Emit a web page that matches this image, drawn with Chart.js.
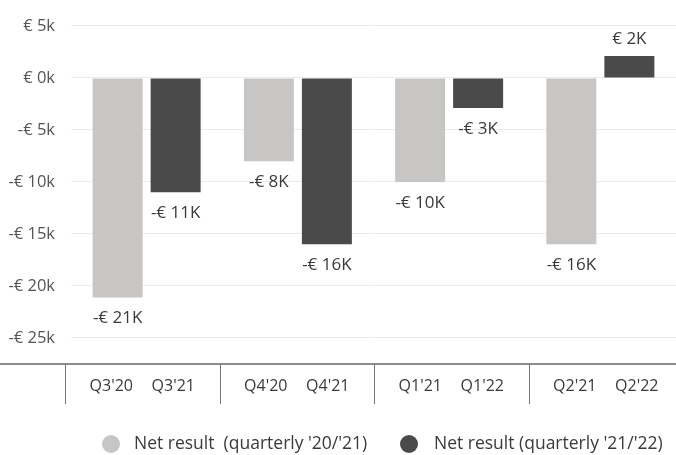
<!DOCTYPE html>
<html><head><meta charset="utf-8">
<script src="https://cdn.jsdelivr.net/npm/chart.js@4.4.1/dist/chart.umd.min.js"></script>
<style>html,body{margin:0;padding:0;background:#fff}#wrap{width:676px;height:455px}</style>
</head><body><div id="wrap"><canvas id="c" width="676" height="455"></canvas></div>
<script>
const quarters = ["Q3", "Q4", "Q1", "Q2"];
const labelsPrev = ["Q3'20", "Q4'20", "Q1'21", "Q2'21"];
const labelsCurr = ["Q3'21", "Q4'21", "Q1'22", "Q2'22"];
const netPrev = [-21100, -8000, -10000, -16000];
const netCurr = [-11000, -16000, -2900, 2100];
const seriesNames = ["Net result  (quarterly '20/'21)", "Net result (quarterly '21/'22)"];
const yTicks = [5000, 0, -5000, -10000, -15000, -20000, -25000];
const barColors = ["#c7c6c4", "#4a4a4a"];

const FONT = "'Open Sans', 'Noto Sans', sans-serif";
function fmtTick(v) {
  const k = Math.round(Math.abs(v) / 1000);
  return (v < 0 ? "-€ " : "€ ") + k + "k";
}
function fmtVal(v) {
  const k = Math.round(Math.abs(v) / 1000);
  return (v < 0 ? "-€ " : "€ ") + k + "K";
}

const decor = {
  id: 'decor',
  afterDraw(chart) {
    const ctx = chart.ctx;
    const area = chart.chartArea;
    ctx.save();
    // axis line
    ctx.strokeStyle = '#666';
    ctx.lineWidth = 1.6;
    ctx.beginPath();
    ctx.moveTo(0, area.bottom);
    ctx.lineTo(chart.width, area.bottom);
    ctx.stroke();
    // group band layout of the lower label axis
    const bandLeft = area.left - 6;
    const bandW = (area.right + 7 - bandLeft) / quarters.length;
    ctx.strokeStyle = '#777';
    ctx.lineWidth = 1;
    for (let i = 0; i < quarters.length; i++) {
      const x = bandLeft + i * bandW;
      ctx.beginPath();
      ctx.moveTo(Math.round(x) + 0.5, area.bottom);
      ctx.lineTo(Math.round(x) + 0.5, area.bottom + 40);
      ctx.stroke();
    }
    // lower category labels (two per group)
    ctx.textAlign = 'center';
    ctx.textBaseline = 'middle';
    ctx.fillStyle = '#3a3a3a';
    ctx.font = "16px " + FONT;
    for (let i = 0; i < quarters.length; i++) {
      const c = bandLeft + (i + 0.5) * bandW;
      ctx.fillText(labelsPrev[i], c - 31, area.bottom + 22);
      ctx.fillText(labelsCurr[i], c + 31, area.bottom + 22);
    }
    // value labels
    chart.data.datasets.forEach((ds, d) => {
      const meta = chart.getDatasetMeta(d);
      meta.data.forEach((el, j) => {
        const v = ds.data[j];
        ctx.font = "17px " + FONT;
        ctx.fillStyle = '#3a3a3a';
        if (v < 0) ctx.fillText(fmtVal(v), el.x, el.y + 21);
        else ctx.fillText(fmtVal(v), el.x, el.y - 17);
      });
    });
    // legend
    const legendX = [[111, 134], [409, 434]];
    const ly = 444;
    ctx.textAlign = 'left';
    ctx.font = "17.5px " + FONT;
    chart.data.datasets.forEach((ds, d) => {
      ctx.fillStyle = ds.backgroundColor;
      ctx.beginPath();
      ctx.arc(legendX[d][0], ly, 9, 0, Math.PI * 2);
      ctx.fill();
      ctx.fillStyle = '#3a3a3a';
      ctx.fillText(ds.label, legendX[d][1], ly);
    });
    ctx.restore();
  }
};

new Chart(document.getElementById('c'), {
  type: 'bar',
  data: {
    labels: quarters,
    datasets: [
      { label: seriesNames[0], data: netPrev, backgroundColor: barColors[0], borderWidth: 0,
        categoryPercentage: 0.767, barPercentage: 0.862 },
      { label: seriesNames[1], data: netCurr, backgroundColor: barColors[1], borderWidth: 0,
        categoryPercentage: 0.767, barPercentage: 0.862 }
    ]
  },
  options: {
    responsive: false,
    animation: false,
    devicePixelRatio: 1,
    layout: { padding: { top: 24, bottom: 91, left: 0, right: 0 } },
    plugins: { legend: { display: false }, tooltip: { enabled: false } },
    scales: {
      x: { display: false },
      y: {
        min: -27500, max: 5000,
        afterBuildTicks: ax => { ax.ticks = yTicks.map(v => ({ value: v })); },
        afterFit: s => { s.width = 71; },
        grid: { color: '#ebebeb', drawTicks: false, lineWidth: 1 },
        border: { display: false },
        ticks: { padding: 16, color: '#555', font: { family: FONT, size: 16.5 }, callback: v => fmtTick(v) }
      }
    }
  },
  plugins: [decor]
});
</script>
</body></html>
